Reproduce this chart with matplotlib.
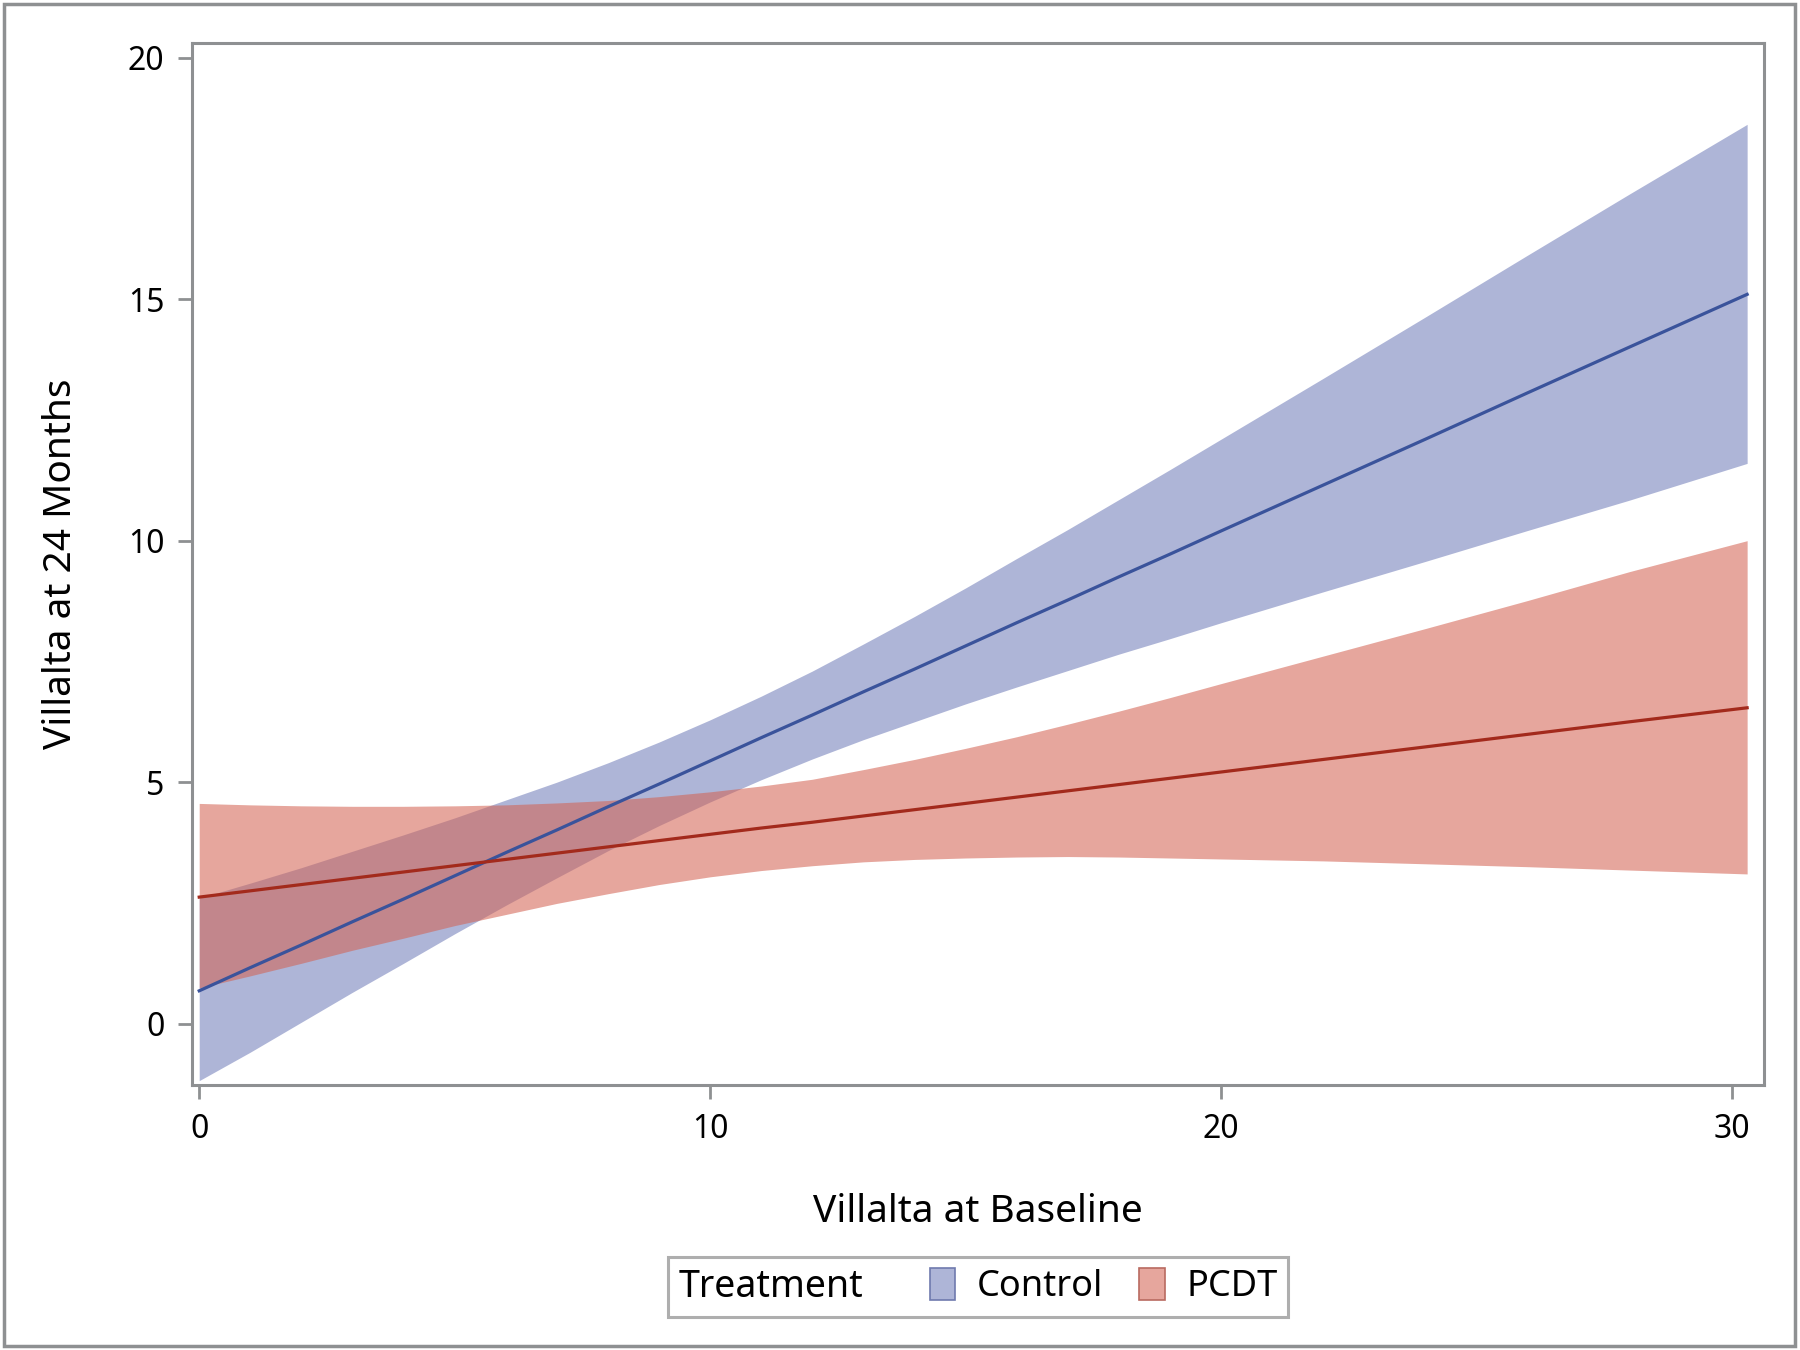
import matplotlib
matplotlib.use("Agg")
import matplotlib.pyplot as plt
from matplotlib.patches import Patch, Rectangle
from matplotlib.offsetbox import HPacker

plt.rcParams['font.family'] = ['Noto Sans', 'DejaVu Sans']

# baseline villalta grid
baseline = [0, 1, 2, 3, 4, 5, 6, 7, 8, 9, 10, 11, 12, 13, 14, 15, 16, 17, 18, 19,
            20, 22, 24, 26, 28, 30.3]

ctrl_mean = [0.68, 1.16, 1.63, 2.11, 2.58, 3.06, 3.54, 4.01, 4.49, 4.96,
             5.44, 5.92, 6.39, 6.87, 7.34, 7.82, 8.30, 8.77, 9.25, 9.72,
             10.20, 11.15, 12.10, 13.06, 14.01, 15.10]
ctrl_upper = [2.60, 2.91, 3.23, 3.57, 3.91, 4.26, 4.63, 5.00, 5.40, 5.83,
              6.29, 6.78, 7.30, 7.86, 8.43, 9.02, 9.63, 10.23, 10.85, 11.47,
              12.10, 13.36, 14.63, 15.91, 17.18, 18.62]
ctrl_lower = [-1.18, -0.59, 0.03, 0.65, 1.25, 1.86, 2.45, 3.02, 3.58, 4.10,
              4.59, 5.05, 5.48, 5.88, 6.25, 6.62, 6.97, 7.31, 7.65, 7.97,
              8.30, 8.94, 9.57, 10.21, 10.84, 11.60]

pcdt_mean = [2.62, 2.75, 2.88, 3.01, 3.14, 3.27, 3.40, 3.53, 3.66, 3.79,
             3.92, 4.05, 4.17, 4.30, 4.43, 4.56, 4.69, 4.82, 4.95, 5.08,
             5.21, 5.47, 5.73, 5.99, 6.25, 6.54]
pcdt_upper = [4.56, 4.53, 4.51, 4.50, 4.50, 4.51, 4.53, 4.57, 4.62, 4.70,
              4.80, 4.92, 5.06, 5.26, 5.47, 5.70, 5.94, 6.20, 6.47, 6.75,
              7.04, 7.61, 8.18, 8.76, 9.36, 10.00]
pcdt_lower = [0.74, 0.99, 1.25, 1.52, 1.77, 2.03, 2.26, 2.49, 2.69, 2.88,
              3.04, 3.17, 3.27, 3.35, 3.40, 3.43, 3.45, 3.46, 3.45, 3.43,
              3.41, 3.37, 3.31, 3.25, 3.18, 3.10]

groups = ['Control', 'PCDT']
band_colors = ['#717DB9', '#D36353']
line_colors = ['#3A539B', '#A32A1C']
band_alpha = 0.57

gray = '#8E9092'

fig = plt.figure(figsize=(18, 13.5), dpi=100)
ax = fig.add_axes([0.1067, 0.1963, 0.8733, 0.7717])

ax.fill_between(baseline, ctrl_lower, ctrl_upper, color=band_colors[0],
                alpha=band_alpha, linewidth=0)
ax.fill_between(baseline, pcdt_lower, pcdt_upper, color=band_colors[1],
                alpha=band_alpha, linewidth=0)
ax.plot(baseline, ctrl_mean, color=line_colors[0], lw=2.3)
ax.plot(baseline, pcdt_mean, color=line_colors[1], lw=2.3)

ax.set_xlim(-0.14, 30.63)
ax.set_ylim(-1.27, 20.3)
ax.set_xticks([0, 10, 20, 30])
ax.set_yticks([0, 5, 10, 15, 20])

for s in ax.spines.values():
    s.set_color(gray)
    s.set_linewidth(2.2)
ax.tick_params(axis='both', colors=gray, width=2, length=10, labelsize=23,
               labelcolor='black', pad=10)

ax.set_xlabel('Villalta at Baseline', fontsize=28, labelpad=34)
ax.set_ylabel('Villalta at 24 Months', fontsize=28, labelpad=34)

handles = [Patch(facecolor='#AEB5D7', edgecolor='#6F7AAE', lw=1.2),
           Patch(facecolor='#E6A69D', edgecolor='#B96A60', lw=1.2)]
leg = fig.legend(handles, groups, title='Treatment', ncol=2,
                 loc='center', bbox_to_anchor=(0.5433, 0.0467),
                 fontsize=26, title_fontsize=27, frameon=True, fancybox=False,
                 edgecolor='#9A9A9A', handlelength=0.7, handleheight=0.95,
                 handletextpad=0.6, columnspacing=1.0, borderpad=0.3)
leg.get_frame().set_linewidth(2.2)
box = leg._legend_box
box._children = [HPacker(pad=0, sep=48, align='center',
                         children=list(box.get_children()))]

# outer border around the whole figure
fig.patches.append(Rectangle((0.002, 0.003), 0.995, 0.994, transform=fig.transFigure,
                             fill=False, edgecolor=gray, lw=2.5))

fig.savefig('out.png', dpi=100)
